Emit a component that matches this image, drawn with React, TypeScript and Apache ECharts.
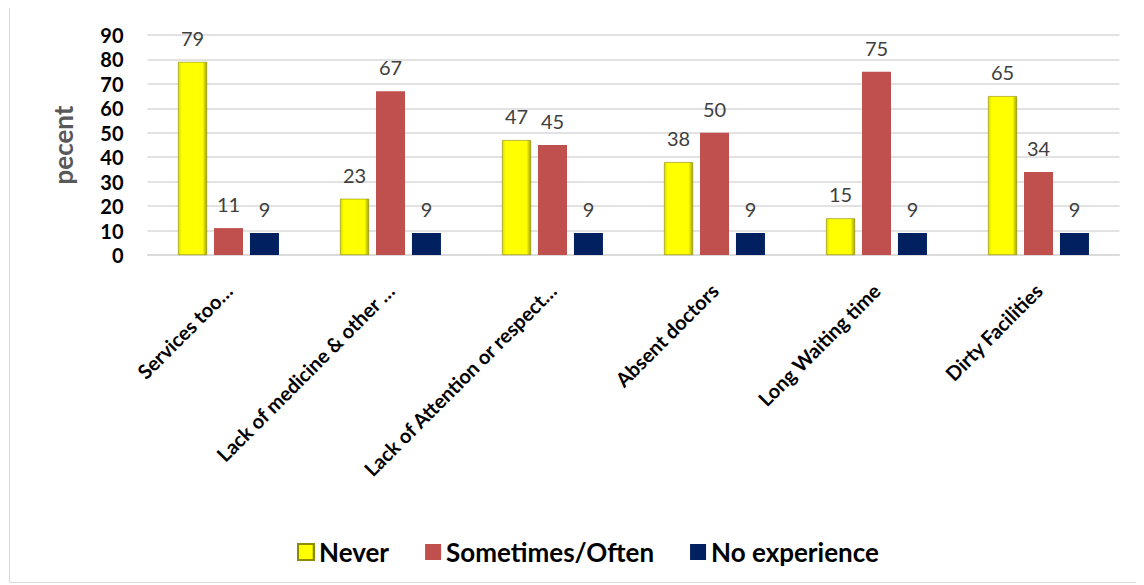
import React, { useEffect, useRef } from "react";
import * as echarts from "echarts";

const categories = [
  "Services too…",
  "Lack of medicine & other …",
  "Lack of Attention or respect…",
  "Absent doctors",
  "Long Waiting time",
  "Dirty Facilities",
];
const seriesNames = ["Never", "Sometimes/Often", "No experience"];
const never = [79, 23, 47, 38, 15, 65];
const sometimes = [11, 67, 45, 50, 75, 34];
const noExperience = [9, 9, 9, 9, 9, 9];
const yTicks = { min: 0, max: 90, interval: 10 };
const yAxisTitle = "pecent";

const FONT = "Lato, 'Open Sans', sans-serif";

export default function App() {
  const ref = useRef<HTMLDivElement>(null);
  useEffect(() => {
    if (!ref.current) return;
    const chart = echarts.init(ref.current, null, { renderer: "svg" });
    const yellow = new echarts.graphic.LinearGradient(0, 0, 1, 0, [
      { offset: 0, color: "#d9d900" },
      { offset: 0.12, color: "#ffff00" },
      { offset: 0.85, color: "#ffff00" },
      { offset: 1, color: "#a6a600" },
    ]);
    const label = {
      show: true,
      position: "top" as const,
      distance: 14,
      color: "#404040",
      fontSize: 20,
      fontFamily: FONT,
    };
    const vals = [never, sometimes, noExperience];
    const styles = [
      { color: yellow, borderColor: "#8c8c00", borderWidth: 0.6 },
      { color: "#c0504d" },
      { color: "#002060" },
    ];
    chart.setOption({
      animation: false,
      textStyle: { fontFamily: FONT },
      grid: { left: 137.5, right: 21.5, top: 27, bottom: 327 },
      legend: {
        left: 282,
        top: 526,
        itemWidth: 16,
        itemHeight: 16,
        itemGap: 36,
        icon: "rect",
        textStyle: { fontSize: 26, fontWeight: "bold", color: "#000", fontFamily: FONT },
        data: seriesNames,
      },
      xAxis: {
        type: "category",
        data: categories,
        axisLine: { lineStyle: { color: "#d9d9d9", width: 1.5 } },
        axisTick: { show: false },
        axisLabel: {
          rotate: 45,
          interval: 0,
          margin: 32,
          fontSize: 20,
          fontWeight: "bold",
          color: "#000",
          fontFamily: FONT,
        },
      },
      yAxis: {
        type: "value",
        min: yTicks.min,
        max: yTicks.max,
        interval: yTicks.interval,
        name: yAxisTitle,
        nameLocation: "middle",
        nameGap: 72,
        nameTextStyle: { fontSize: 26, fontWeight: "bold", color: "#595959", fontFamily: FONT },
        axisLine: { show: false },
        axisTick: { show: false },
        axisLabel: { fontSize: 20, fontWeight: "bold", color: "#000", margin: 24, fontFamily: FONT },
        splitLine: { lineStyle: { color: "#d9d9d9", width: 1.5 } },
      },
      series: seriesNames.map((name, i) => ({
        name,
        type: "bar",
        data: vals[i],
        barWidth: 29,
        barGap: "24%",
        itemStyle: styles[i],
        label,
      })),
    });
    return () => chart.dispose();
  }, []);
  return (
    <div
      style={{
        width: 1133,
        height: 576,
        border: "1px solid #d9d9d9",
        boxSizing: "border-box",
        marginTop: -1,
        marginLeft: 1,
      }}
    >
      <div ref={ref} style={{ width: 1131, height: 574 }} />
    </div>
  );
}
